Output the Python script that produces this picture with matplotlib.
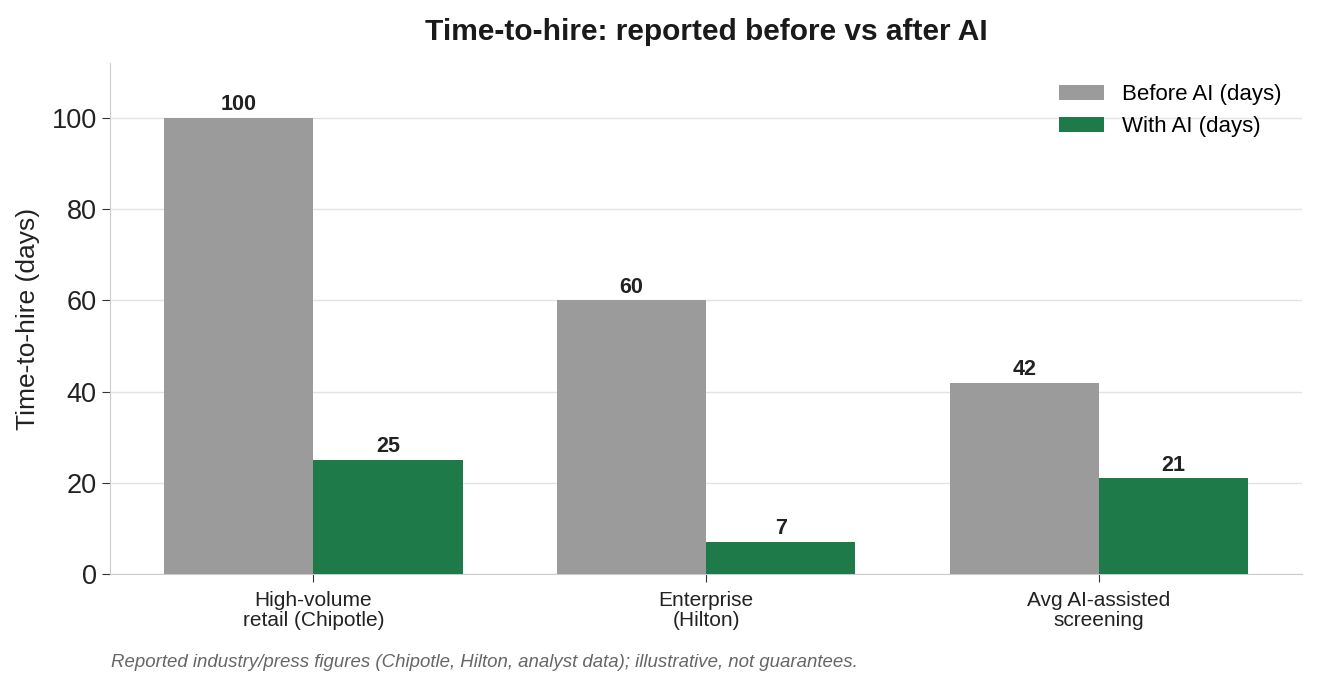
import numpy as np
import matplotlib
matplotlib.use("Agg")
import matplotlib.pyplot as plt

plt.rcParams['font.family'] = ['Liberation Sans', 'DejaVu Sans']

categories = ["High-volume\nretail (Chipotle)", "Enterprise\n(Hilton)", "Avg AI-assisted\nscreening"]
before_ai = [100, 60, 42]
with_ai = [25, 7, 21]

x = np.arange(len(categories))
width = 0.38

fig, ax = plt.subplots(figsize=(13.18, 6.86), dpi=100)
fig.subplots_adjust(left=0.0835, right=0.988, top=0.908, bottom=0.163)

b1 = ax.bar(x - width / 2, before_ai, width, color="#9b9b9b", label="Before AI (days)", zorder=3)
b2 = ax.bar(x + width / 2, with_ai, width, color="#1f7a4a", label="With AI (days)", zorder=3)

for bars in (b1, b2):
    ax.bar_label(bars, padding=2, fontsize=15.5, fontweight="bold", color="#222222")

ax.set_xticks(x)
ax.set_xticklabels(categories, fontsize=15, color="#222222", linespacing=1.1)
ax.set_ylim(0, 112)
ax.set_yticks([0, 20, 40, 60, 80, 100])
ax.tick_params(axis="y", labelsize=19.5, colors="#222222", length=6, color="#333333")
ax.tick_params(axis="x", length=6, color="#333333", pad=6)
ax.set_ylabel("Time-to-hire (days)", fontsize=19, color="#222222", labelpad=8)

ax.yaxis.grid(True, color="#e3e3e3", linewidth=1, zorder=0)
ax.set_axisbelow(True)
for side in ("top", "right"):
    ax.spines[side].set_visible(False)
for side in ("left", "bottom"):
    ax.spines[side].set_color("#cccccc")

ax.set_title("Time-to-hire: reported before vs after AI", fontsize=21.5,
             fontweight="bold", color="#1a1a1a", pad=17)

ax.legend(loc="upper right", frameon=False, fontsize=16, handlelength=2.0,
          handleheight=0.7, borderaxespad=0.55, handletextpad=0.8)

fig.text(0.084, 0.027, "Reported industry/press figures (Chipotle, Hilton, analyst data); illustrative, not guarantees.",
         fontsize=13.4, style="italic", color="#666666")

fig.savefig("out.png", dpi=100)
